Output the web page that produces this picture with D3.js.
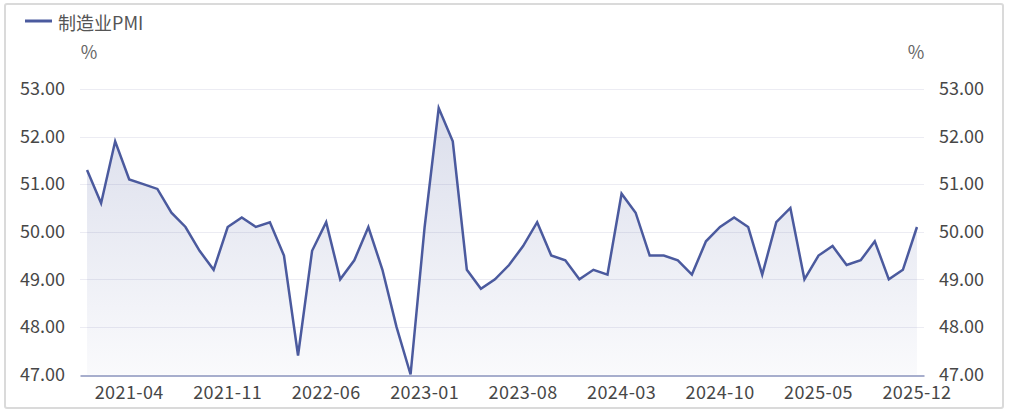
<!DOCTYPE html>
<html>
<head>
<meta charset="utf-8">
<script src="https://cdn.jsdelivr.net/npm/d3@7"></script>
<style>
  body { margin: 0; background: #fff; }
  #chart { width: 1010px; height: 416px; }
  text { font-family: "Noto Sans CJK SC", "Noto Sans", sans-serif; }
</style>
</head>
<body>
<div id="chart"></div>
<script>
// monthly manufacturing PMI, 2021-01 .. 2025-12
const months = [];
for (let y = 2021; y <= 2025; y++) {
  for (let m = 1; m <= 12; m++) months.push(y + "-" + (m < 10 ? "0" + m : m));
}
const pmi2021 = [51.3, 50.6, 51.9, 51.1, 51.0, 50.9, 50.4, 50.1, 49.6, 49.2, 50.1, 50.3];
const pmi2022 = [50.1, 50.2, 49.5, 47.4, 49.6, 50.2, 49.0, 49.4, 50.1, 49.2, 48.0, 47.0];
const pmi2023 = [50.1, 52.6, 51.9, 49.2, 48.8, 49.0, 49.3, 49.7, 50.2, 49.5, 49.4, 49.0];
const pmi2024 = [49.2, 49.1, 50.8, 50.4, 49.5, 49.5, 49.4, 49.1, 49.8, 50.1, 50.3, 50.1];
const pmi2025 = [49.1, 50.2, 50.5, 49.0, 49.5, 49.7, 49.3, 49.4, 49.8, 49.0, 49.2, 50.1];
const values = [].concat(pmi2021, pmi2022, pmi2023, pmi2024, pmi2025);
const yTicks = [47, 48, 49, 50, 51, 52, 53];
const seriesName = "制造业PMI";

const W = 1010, H = 416;
const margin = {top: 89, right: 86, bottom: 40, left: 80};
const lineColor = "#4b5a9e";
const textColor = "#474747";

const data = months.map((m, i) => ({month: m, value: values[i]}));

const svg = d3.select("#chart").append("svg")
  .attr("width", W).attr("height", H);

// frame
svg.append("rect")
  .attr("x", 5).attr("y", 4).attr("width", 998).attr("height", 404)
  .attr("rx", 2)
  .style("fill", "none").style("stroke", "#dadada").style("stroke-width", 2);

const x = d3.scaleBand().domain(months).range([margin.left, W - margin.right]);
const y = d3.scaleLinear().domain([47, 53]).range([H - margin.bottom - 0.5 - 1, margin.top]);
const cx = d => x(d.month) + x.bandwidth() / 2;

const defs = svg.append("defs");
const grad = defs.append("linearGradient").attr("id", "fade")
  .attr("x1", 0).attr("y1", 0).attr("x2", 0).attr("y2", 1);
grad.append("stop").attr("offset", "0%").attr("stop-color", lineColor).attr("stop-opacity", 0.2);
grad.append("stop").attr("offset", "100%").attr("stop-color", lineColor).attr("stop-opacity", 0.03);

// gridlines
svg.append("g").selectAll("line").data(yTicks.slice(1)).join("line")
  .attr("x1", margin.left).attr("x2", W - margin.right)
  .attr("y1", d => Math.round(y(d)) + 0.5).attr("y2", d => Math.round(y(d)) + 0.5)
  .style("stroke", "#ececf3").style("stroke-width", 1);

// area + line
const area = d3.area().x(cx).y0(y(47)).y1(d => y(d.value));
svg.append("path").attr("d", area(data))
  .style("fill", "url(#fade)");

const line = d3.line().x(cx).y(d => y(d.value));
svg.append("path").attr("d", line(data))
  .style("fill", "none").style("stroke", lineColor)
  .style("stroke-width", 2.5).style("stroke-linejoin", "miter");

// x axis
const xAxis = d3.axisBottom(x)
  .tickValues(months.filter((m, i) => (i - 3) % 7 === 0 && i >= 3))
  .tickSize(0).tickPadding(11);
const gx = svg.append("g")
  .attr("transform", "translate(0," + (Math.round(y(47)) + 0.5) + ")")
  .call(xAxis);
gx.select(".domain").style("stroke", "#8a93bd").style("stroke-width", 1.5);
gx.selectAll("text").style("font-size", "18px").style("fill", textColor)
  .style("letter-spacing", "0.4px");

// y axes (left + right)
const fmt = d3.format(".2f");
const yl = svg.append("g").attr("transform", "translate(" + 65 + ",0)")
  .call(d3.axisLeft(y).tickValues(yTicks).tickFormat(fmt).tickSize(0).tickPadding(0));
const yr = svg.append("g").attr("transform", "translate(" + 939 + ",0)")
  .call(d3.axisRight(y).tickValues(yTicks).tickFormat(fmt).tickSize(0).tickPadding(0));
[yl, yr].forEach(g => {
  g.select(".domain").remove();
  g.selectAll("text").style("font-size", "18px").style("fill", textColor);
});

// unit labels
svg.append("text").attr("x", 89).attr("y", 59).attr("text-anchor", "middle")
  .style("font-size", "18px").style("fill", "#666").text("%");
svg.append("text").attr("x", 916).attr("y", 59).attr("text-anchor", "middle")
  .style("font-size", "18px").style("fill", "#666").text("%");

// legend
svg.append("line").attr("x1", 25).attr("x2", 52).attr("y1", 21).attr("y2", 21)
  .style("stroke", lineColor).style("stroke-width", 3);
svg.append("text").attr("x", 58).attr("y", 30)
  .style("font-size", "18px").style("fill", "#555").text(seriesName);
</script>
</body>
</html>
